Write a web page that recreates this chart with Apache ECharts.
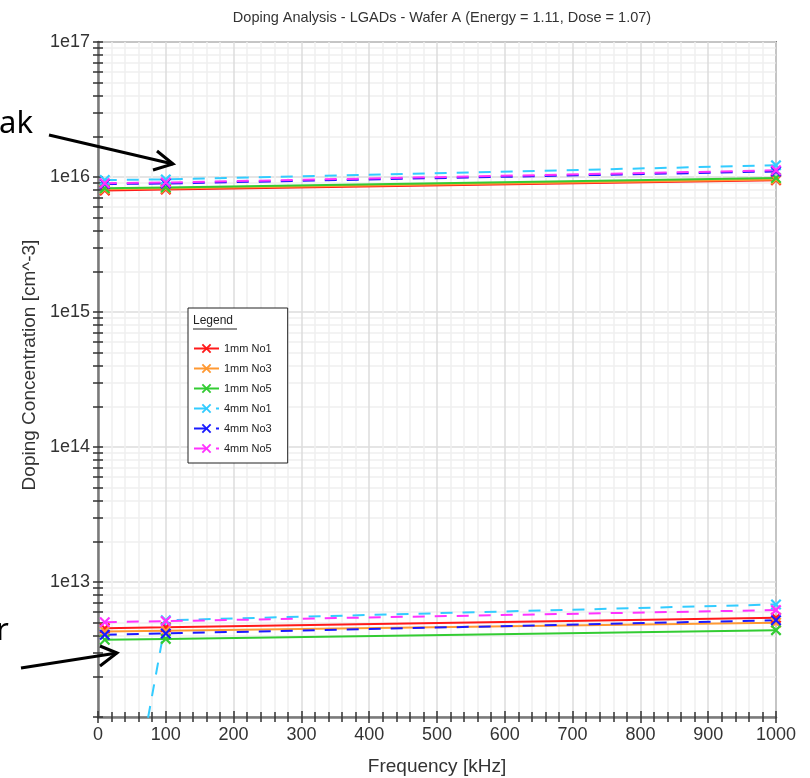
<!DOCTYPE html>
<html>
<head>
<meta charset="utf-8">
<script src="https://cdn.jsdelivr.net/npm/echarts@6/dist/echarts.min.js"></script>
<style>
  html, body { margin: 0; padding: 0; background: #ffffff; }
  #chart { width: 810px; height: 778px; }
</style>
</head>
<body>
<div id="chart"></div>
<script>
// Measurement frequencies [kHz]
const frequencies = [10, 100, 1000];

const seriesNames = ['1mm No1', '1mm No3', '1mm No5', '4mm No1', '4mm No3', '4mm No5'];
const seriesColors = ['#ff1a1a', '#ff9933', '#33cc33', '#33ccff', '#1a1aff', '#ff33ff'];
const seriesDashed = [false, false, false, true, true, true];

// Upper band: peak doping [cm^-3]
const peak1mmNo1 = [7.95e15, 8.08e15, 9.45e15];
const peak1mmNo3 = [8.10e15, 8.22e15, 9.60e15];
const peak1mmNo5 = [8.24e15, 8.37e15, 9.83e15];
const peak4mmNo1 = [9.50e15, 9.60e15, 1.22e16];
const peak4mmNo3 = [8.87e15, 8.95e15, 1.10e16];
const peak4mmNo5 = [9.00e15, 9.10e15, 1.12e16];

// Lower band [cm^-3]
const low1mmNo1 = [4.55e12, 4.62e12, 5.43e12];
const low1mmNo3 = [4.30e12, 4.36e12, 4.99e12];
const low1mmNo5 = [3.73e12, 3.79e12, 4.40e12];
const low4mmNo1 = [1.7e10, 5.21e12, 6.82e12];
const low4mmNo3 = [4.07e12, 4.16e12, 5.21e12];
const low4mmNo5 = [5.04e12, 5.13e12, 6.19e12];

const peakValues = [peak1mmNo1, peak1mmNo3, peak1mmNo5, peak4mmNo1, peak4mmNo3, peak4mmNo5];
const lowValues = [low1mmNo1, low1mmNo3, low1mmNo5, low4mmNo1, low4mmNo3, low4mmNo5];

// Log axis: decade labels and 1..9 x 10^n ticks
const yMin = 1e12, yMax = 1e17;
const yLabelValues = [1e13, 1e14, 1e15, 1e16, 1e17];
const yTickValues = [];
for (let e = 12; e < 17; e++) {
  for (let m = 1; m <= 9; m++) yTickValues.push(m * Math.pow(10, e));
}
yTickValues.push(1e17);

const FONT = '"Liberation Sans", Arial, sans-serif';
const NOTE_FONT = '"Noto Sans", "Open Sans", sans-serif';
const crossSymbol = 'path://M0,1.4L1.4,0L5,3.6L8.6,0L10,1.4L6.4,5L10,8.6L8.6,10L5,6.4L1.4,10L0,8.6L3.6,5Z';

function makeSeries(name, idx, values) {
  return {
    name: name,
    type: 'line',
    xAxisIndex: 0,
    yAxisIndex: 0,
    data: frequencies.map((f, i) => [f, values[i]]),
    symbol: crossSymbol,
    symbolSize: 11,
    showAllSymbol: true,
    clip: true,
    itemStyle: { color: seriesColors[idx] },
    lineStyle: {
      color: seriesColors[idx],
      width: 2,
      type: seriesDashed[idx] ? [12, 10] : 'solid'
    },
    emphasis: { disabled: true },
    animation: false
  };
}

const series = [];
seriesNames.forEach((name, i) => series.push(makeSeries(name, i, peakValues[i])));
seriesNames.forEach((name, i) => series.push(makeSeries(name, i, lowValues[i])));

const tickStyle = { color: '#333333', width: 1.5 };

const option = {
  backgroundColor: '#ffffff',
  animation: false,
  textStyle: { fontFamily: FONT },
  title: {
    text: 'Doping Analysis - LGADs - Wafer A (Energy = 1.11, Dose = 1.07)',
    left: 437,
    top: 5,
    textAlign: 'center',
    textStyle: { fontFamily: FONT, fontSize: 14.5, fontWeight: 'normal', color: '#333333' }
  },
  grid: {
    left: 98, right: 34, top: 42, bottom: 61,
    outerBoundsMode: 'none',
    containLabel: false,
    show: true,
    backgroundColor: '#ffffff',
    borderColor: '#808080',
    borderWidth: 2
  },
  legend: {
    data: seriesNames,
    orient: 'vertical',
    left: 188,
    top: 308,
    padding: [35, 16, 9, 5],
    itemWidth: 25,
    itemHeight: 12,
    itemGap: 9,
    backgroundColor: '#ffffff',
    borderColor: '#222222',
    borderWidth: 1,
    textStyle: { fontFamily: FONT, fontSize: 11, color: '#222222' },
    selectedMode: false
  },
  xAxis: [
    {
      type: 'value',
      min: 0, max: 1000, interval: 100,
      name: 'Frequency [kHz]',
      nameLocation: 'middle',
      nameGap: 40,
      nameTextStyle: { fontFamily: FONT, fontSize: 19, color: '#333333' },
      axisLine: { show: true, onZero: false, lineStyle: { color: '#7a7a7a', width: 2.5 } },
      axisTick: { show: true, inside: false, length: 6, lineStyle: tickStyle },
      minorTick: { show: true, splitNumber: 5, length: 5, lineStyle: tickStyle },
      axisLabel: { fontFamily: FONT, fontSize: 18, color: '#333333', margin: 9, formatter: v => String(v) },
      splitLine: { show: true, lineStyle: { color: '#dcdcdc', width: 1.5 } },
      minorSplitLine: { show: true, lineStyle: { color: '#efefef', width: 1.5 } }
    },
    {
      type: 'value',
      position: 'bottom',
      min: 0, max: 1000, interval: 100,
      axisLine: { show: false, onZero: false },
      axisTick: { show: true, inside: true, length: 6, lineStyle: tickStyle },
      minorTick: { show: true, splitNumber: 5, length: 5, lineStyle: tickStyle },
      axisLabel: { show: false },
      splitLine: { show: false },
      minorSplitLine: { show: false }
    }
  ],
  yAxis: [
    {
      type: 'log',
      logBase: 10,
      min: yMin, max: yMax,
      axisLine: { show: true, lineStyle: { color: '#7a7a7a', width: 2.5 } },
      axisTick: { show: true, inside: false, length: 5, customValues: yTickValues, lineStyle: tickStyle },
      axisLabel: {
        fontFamily: FONT, fontSize: 18, color: '#333333', margin: 8,
        customValues: yLabelValues,
        formatter: v => '1e' + Math.round(Math.log10(v))
      },
      splitLine: {
        show: true,
        lineStyle: {
          color: ['#dcdcdc', '#efefef', '#efefef', '#efefef', '#efefef', '#efefef', '#efefef', '#efefef', '#efefef'],
          width: 1.5
        }
      }
    },
    {
      type: 'log',
      logBase: 10,
      position: 'left',
      min: yMin, max: yMax,
      axisLine: { show: false },
      axisTick: { show: true, inside: true, length: 5, customValues: yTickValues, lineStyle: tickStyle },
      axisLabel: { show: false },
      splitLine: { show: false }
    }
  ],
  graphic: [
    {
      type: 'text',
      x: 30, y: 365,
      z: 100,
      rotation: Math.PI / 2,
      style: {
        text: 'Doping Concentration [cm^-3]',
        font: '19px ' + FONT,
        fill: '#333333',
        align: 'center',
        verticalAlign: 'middle'
      },
      silent: true
    },
    {
      type: 'text',
      x: 193, y: 315,
      z: 100,
      style: { text: 'Legend', font: '12px ' + FONT, fill: '#222222' },
      silent: true
    },
    {
      type: 'line',
      z: 100,
      shape: { x1: 193, y1: 329, x2: 237, y2: 329 },
      style: { stroke: '#222222', lineWidth: 1 },
      silent: true
    },
    // annotation: upper band
    {
      type: 'text',
      x: -1, y: 140,
      z: 100,
      style: { text: 'ak', font: '31px ' + NOTE_FONT, fill: '#000000', verticalAlign: 'bottom' },
      silent: true
    },
    {
      type: 'line',
      z: 100,
      shape: { x1: 49, y1: 135, x2: 173, y2: 164 },
      style: { stroke: '#000000', lineWidth: 3 },
      silent: true
    },
    {
      type: 'polyline',
      z: 100,
      shape: { points: [[157, 151], [173, 164], [153, 170]] },
      style: { stroke: '#000000', lineWidth: 3, fill: null },
      silent: true
    },
    // annotation: lower band
    {
      type: 'text',
      x: -4, y: 647,
      z: 100,
      style: { text: 'r', font: '31px ' + NOTE_FONT, fill: '#000000', verticalAlign: 'bottom' },
      silent: true
    },
    {
      type: 'line',
      z: 100,
      shape: { x1: 21, y1: 668, x2: 117, y2: 653 },
      style: { stroke: '#000000', lineWidth: 3 },
      silent: true
    },
    {
      type: 'polyline',
      z: 100,
      shape: { points: [[100, 646], [117, 653], [100, 666]] },
      style: { stroke: '#000000', lineWidth: 3, fill: null },
      silent: true
    }
  ],
  series: series
};

const chart = echarts.init(document.getElementById('chart'), null, { renderer: 'canvas' });
chart.setOption(option);
</script>
</body>
</html>
